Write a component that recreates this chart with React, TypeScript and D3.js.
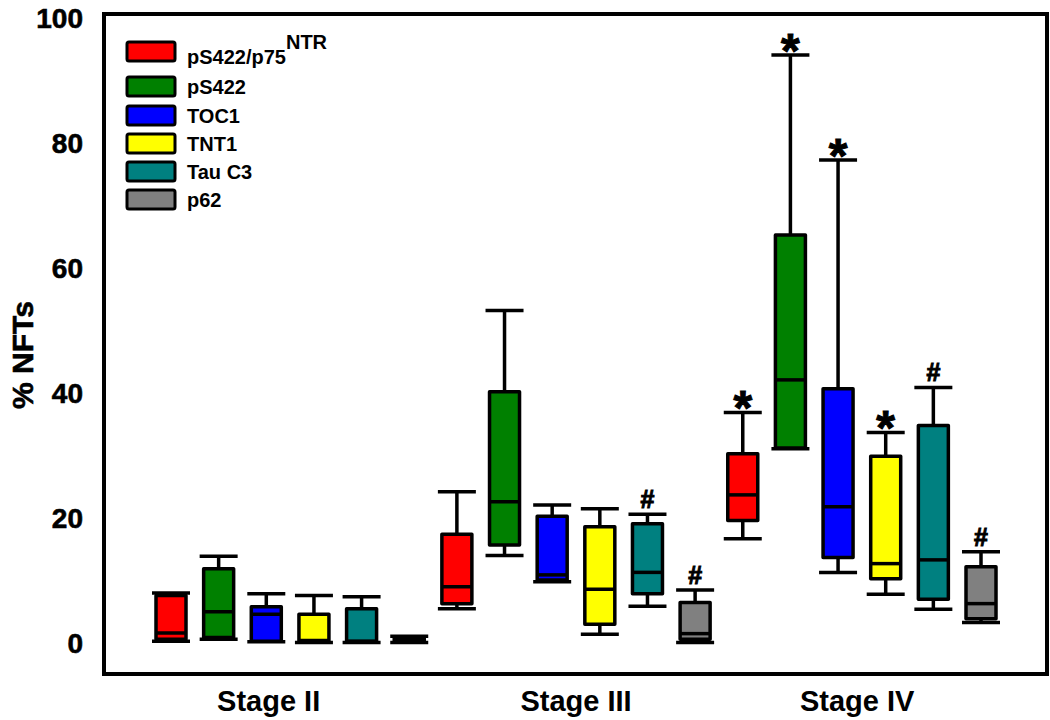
import React from "react";
import * as d3 from "d3";

// ---- data ----
const stages = ["Stage II", "Stage III", "Stage IV"];
const seriesNames = ["pS422/p75", "pS422", "TOC1", "TNT1", "Tau C3", "p62"];
const seriesColors = ["#ff0000", "#008000", "#0000ff", "#ffff00", "#008080", "#808080"];
const yTicks = [0, 20, 40, 60, 80, 100];

// [min, q1, median, q3, max] per stage (II, III, IV)
const pS422p75 = [
  [0.3, 0.6, 1.6, 7.6, 8.0],
  [5.5, 6.3, 9.0, 17.4, 24.2],
  [16.7, 19.6, 23.7, 30.3, 36.9],
];
const pS422 = [
  [0.6, 0.9, 5.0, 11.9, 13.9],
  [14.0, 15.7, 22.6, 40.2, 53.2],
  [31.1, 31.2, 42.1, 65.3, 94.1],
];
const TOC1 = [
  [0.2, 0.3, 4.6, 5.8, 7.9],
  [9.8, 10.1, 10.9, 20.3, 22.1],
  [11.3, 13.7, 21.8, 40.7, 77.3],
];
const TNT1 = [
  [0.1, 0.2, 0.4, 4.6, 7.6],
  [1.4, 3.0, 8.6, 18.6, 21.5],
  [7.8, 10.3, 12.7, 29.9, 33.7],
];
const TauC3 = [
  [0.1, 0.2, 0.3, 5.5, 7.4],
  [5.9, 7.9, 11.3, 19.1, 20.6],
  [5.4, 7.0, 13.3, 34.8, 40.9],
];
const p62 = [
  [0.1, 0.2, 0.4, 0.8, 1.1],
  [0.1, 0.6, 1.5, 6.5, 8.5],
  [3.3, 3.9, 6.3, 12.2, 14.6],
];
const allSeries = [pS422p75, pS422, TOC1, TNT1, TauC3, p62];

// significance marks per series per stage
const marks = [
  ["", "", "*"],
  ["", "", "*"],
  ["", "", "*"],
  ["", "", "*"],
  ["", "#", "#"],
  ["", "#", "#"],
];

// ---- layout ----
const W = 1050;
const H = 720;
const frame = { left: 104, top: 14, right: 1047, bottom: 674 };
const stageLabelPos = [2.05, 8.5, 14.4]; // in box-index units
const font = "'Liberation Sans', Arial, Helvetica, sans-serif";

export default function App() {
  const nBoxes = stages.length * seriesNames.length;
  const x = d3.scaleLinear().domain([0, nBoxes - 1]).range([171, 981]);
  const y = d3.scaleLinear().domain([0, 100]).range([643, 18]);
  const boxW = 30;
  const capW = 38;

  const boxes: any[] = [];
  stages.forEach((_, si) => {
    seriesNames.forEach((_, k) => {
      const idx = si * seriesNames.length + k;
      const [mn, q1, md, q3, mx] = allSeries[k][si];
      boxes.push({ idx, cx: x(idx), mn, q1, md, q3, mx, color: seriesColors[k], mark: marks[k][si] });
    });
  });

  const legendTop = [42, 77, 106, 134, 162, 190];

  return (
    <svg
      width={W}
      height={H}
      style={{ position: "absolute", left: 0, top: 0, background: "#fff" }}
      fontFamily={font}
    >
      <rect x={0} y={0} width={W} height={H} fill="#fff" />
      {/* frame */}
      <rect
        x={frame.left}
        y={frame.top}
        width={frame.right - frame.left}
        height={frame.bottom - frame.top}
        fill="none"
        stroke="#000"
        strokeWidth={4}
      />
      {/* y tick labels */}
      {yTicks.map((t) => (
        <text
          key={t}
          x={83}
          y={y(t)}
          textAnchor="end"
          dominantBaseline="central"
          fontSize={28}
          fontWeight="bold"
          stroke="#000"
          strokeWidth={0.6}
        >
          {t}
        </text>
      ))}
      <text
        transform={`translate(22,355) rotate(-90)`}
        textAnchor="middle"
        dominantBaseline="central"
        fontSize={30}
        fontWeight="bold"
        stroke="#000"
        strokeWidth={0.6}
      >
        % NFTs
      </text>
      {/* stage labels */}
      {stages.map((s, i) => (
        <text key={s} x={x(stageLabelPos[i])} y={711} textAnchor="middle" fontSize={29} fontWeight="bold">
          {s}
        </text>
      ))}
      {/* boxes */}
      {boxes.map((b) => (
        <g key={b.idx} stroke="#000" strokeWidth={3.5}>
          <line x1={b.cx} x2={b.cx} y1={y(b.q3)} y2={y(b.mx)} />
          <line x1={b.cx - capW / 2} x2={b.cx + capW / 2} y1={y(b.mx)} y2={y(b.mx)} />
          <line x1={b.cx} x2={b.cx} y1={y(b.q1)} y2={y(b.mn)} />
          <line x1={b.cx - capW / 2} x2={b.cx + capW / 2} y1={y(b.mn)} y2={y(b.mn)} />
          <rect
            x={b.cx - boxW / 2}
            y={y(b.q3)}
            width={boxW}
            height={Math.max(0.5, y(b.q1) - y(b.q3))}
            fill={b.color}
            strokeLinejoin="round"
          />
          <line x1={b.cx - boxW / 2} x2={b.cx + boxW / 2} y1={y(b.md)} y2={y(b.md)} />
          {b.mark === "*" && (
            <text x={b.cx} y={y(b.mx) + 12} textAnchor="middle" fontSize={48} fontWeight="bold" stroke="#000" strokeWidth={1} fill="#000">
              *
            </text>
          )}
          {b.mark === "#" && (
            <text x={b.cx} y={y(b.mx) - 6} textAnchor="middle" fontSize={25} fontWeight="bold" stroke="#000" strokeWidth={1} fill="#000">
              #
            </text>
          )}
        </g>
      ))}
      {/* legend */}
      {seriesNames.map((n, i) => (
        <g key={n}>
          <rect x={127} y={legendTop[i]} width={48} height={19} rx={2} fill={seriesColors[i]} stroke="#000" strokeWidth={3} />
          <text x={187} y={legendTop[i] + (i === 0 ? 22 : 17)} fontSize={20} fontWeight="bold">
            {n}
            {i === 0 && (
              <tspan dy={-15} fontSize={20}>
                NTR
              </tspan>
            )}
          </text>
        </g>
      ))}
    </svg>
  );
}
